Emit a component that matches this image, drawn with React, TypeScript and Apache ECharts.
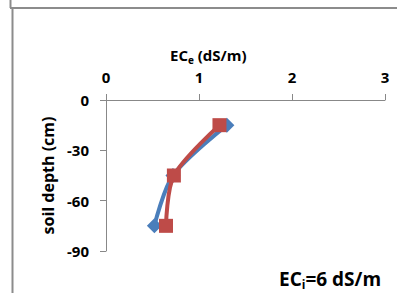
import React, { useEffect, useRef } from "react";
import * as echarts from "echarts";

const depthLevels: number[] = [-15, -45, -75];
const seriesBlue: number[] = [1.3, 0.72, 0.52];
const seriesRed: number[] = [1.22, 0.73, 0.645];
const xTicks: number[] = [0, 1, 2, 3];
const yTicks: number[] = [0, -30, -60, -90];

const FONT = "'Open Sans', 'Liberation Sans', sans-serif";

export default function App() {
  const ref = useRef<HTMLDivElement>(null);
  useEffect(() => {
    document.body.style.margin = "0";
    const chart = echarts.init(ref.current!, null, { renderer: "svg" });
    const toPairs = (xs: number[]) => xs.map((x, i) => [x, depthLevels[i]]);
    chart.setOption({
      animation: false,
      backgroundColor: "#ffffff",
      grid: { left: 106, top: 100, width: 279, height: 151, containLabel: false },
      xAxis: {
        type: "value",
        position: "top",
        min: xTicks[0],
        max: xTicks[xTicks.length - 1],
        interval: 1,
        axisLine: { show: true, lineStyle: { color: "#888888", width: 1 } },
        axisTick: { show: true, length: 6, lineStyle: { color: "#888888" } },
        splitLine: { show: false },
        axisLabel: { margin: 16, color: "#000", fontFamily: FONT, fontWeight: "bold", fontSize: 15 },
      },
      yAxis: {
        type: "value",
        min: yTicks[yTicks.length - 1],
        max: yTicks[0],
        interval: 30,
        axisLine: { show: true, lineStyle: { color: "#888888", width: 1 } },
        axisTick: { show: true, length: 6, lineStyle: { color: "#888888" } },
        splitLine: { show: false },
        axisLabel: { margin: 17, color: "#000", fontFamily: FONT, fontWeight: "bold", fontSize: 15 },
        name: "soil depth (cm)",
        nameLocation: "middle",
        nameGap: 46,
        nameTextStyle: { color: "#000", fontFamily: FONT, fontWeight: "bold", fontSize: 16 },
      },
      series: [
        {
          type: "line",
          data: toPairs(seriesBlue),
          smooth: 0.3,
          symbol: "diamond",
          symbolSize: 15,
          lineStyle: { color: "#4a7ebb", width: 4 },
          itemStyle: { color: "#4a7ebb" },
          z: 2,
        },
        {
          type: "line",
          data: toPairs(seriesRed),
          smooth: 0.3,
          symbol: "rect",
          symbolSize: 14,
          lineStyle: { color: "#be4b48", width: 4 },
          itemStyle: { color: "#be4b48" },
          z: 3,
        },
      ],
      graphic: [
        { type: "line", shape: { x1: 10.5, y1: 0, x2: 10.5, y2: 8 }, style: { stroke: "#8c8c8c", lineWidth: 2 } },
        { type: "line", shape: { x1: 10, y1: 8, x2: 397, y2: 8 }, style: { stroke: "#8c8c8c", lineWidth: 2 } },
        { type: "line", shape: { x1: 12.5, y1: 9, x2: 12.5, y2: 293 }, style: { stroke: "#8c8c8c", lineWidth: 2 } },
        {
          type: "text",
          left: 170,
          top: 45,
          style: {
            text: "{a|EC}{s|e}{a| (dS/m)}",
            rich: {
              a: { fontFamily: FONT, fontWeight: "bold", fontSize: 15, lineHeight: 20, fill: "#000" },
              s: { fontFamily: FONT, fontWeight: "bold", fontSize: 10, lineHeight: 10, fill: "#000", padding: [10, 0, 0, 0] },
            },
          },
        },
        {
          type: "text",
          left: 279,
          top: 267,
          style: {
            text: "{a|EC}{s|i}{a|=6 dS/m}",
            rich: {
              a: { fontFamily: FONT, fontWeight: "bold", fontSize: 19, lineHeight: 22, fill: "#000" },
              s: { fontFamily: FONT, fontWeight: "bold", fontSize: 12, lineHeight: 11, fill: "#000", padding: [11, 0, 0, 0] },
            },
          },
        },
      ],
    });
    return () => chart.dispose();
  }, []);
  return <div ref={ref} style={{ width: 397, height: 293, position: "absolute", left: 0, top: 0 }} />;
}
